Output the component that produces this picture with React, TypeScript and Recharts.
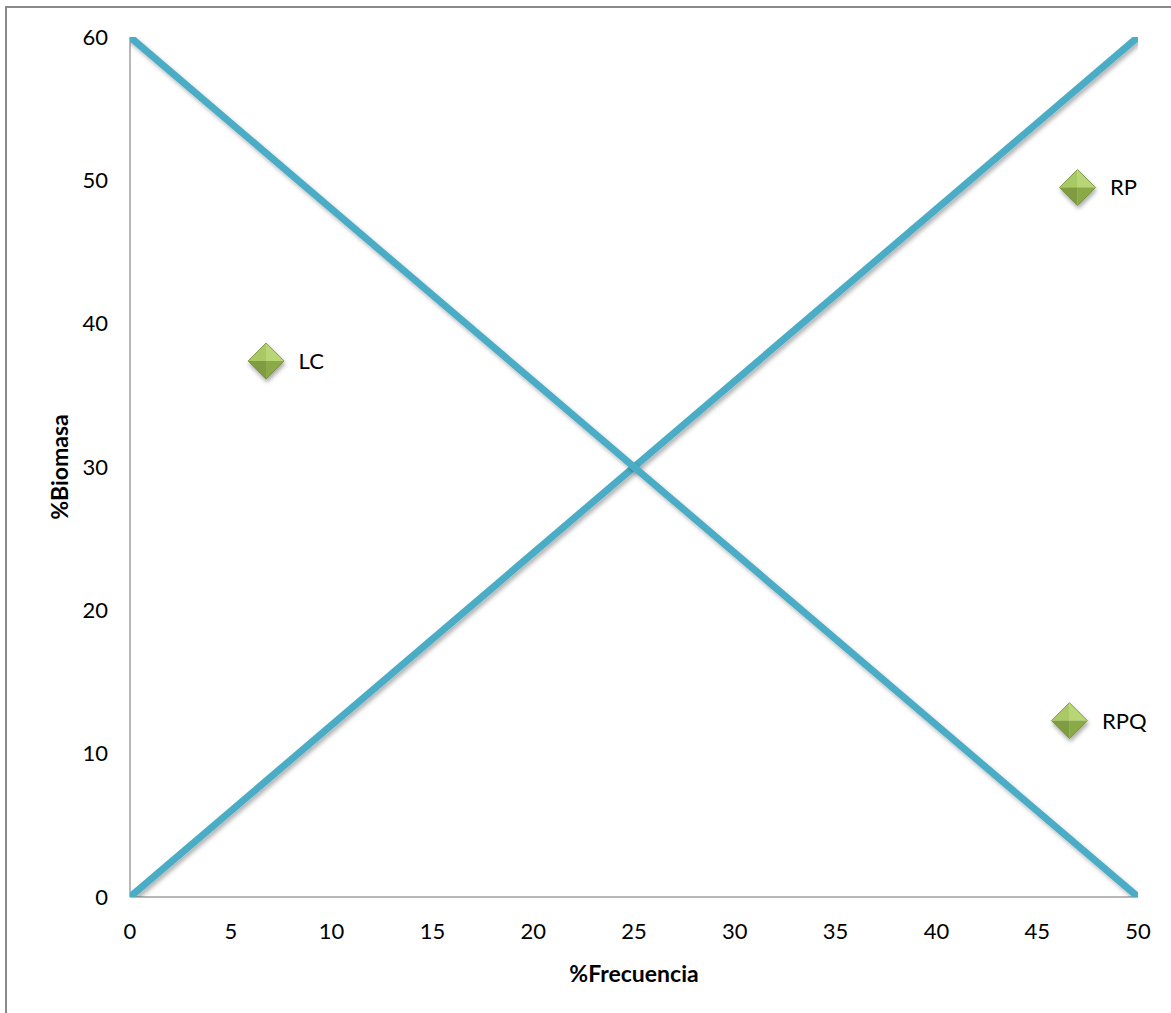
import React from 'react';
import { ComposedChart, Scatter, XAxis, YAxis, LabelList } from 'recharts';

const xTicks = [0, 5, 10, 15, 20, 25, 30, 35, 40, 45, 50];
const yTicks = [0, 10, 20, 30, 40, 50, 60];

const lineUp = [
  { x: 0, y: 0 },
  { x: 50, y: 60 },
];
const lineDown = [
  { x: 0, y: 60 },
  { x: 50, y: 0 },
];

const sites = [
  { x: 6.75, y: 37.4, name: 'LC' },
  { x: 47.0, y: 49.5, name: 'RP' },
  { x: 46.6, y: 12.3, name: 'RPQ' },
];

const FONT = 'Lato, "Open Sans", sans-serif';
const LINE_COLOR = '#4BACC6';

// bevelled green diamond like the Excel marker
const Diamond = (props: any) => {
  const { cx, cy } = props;
  if (cx == null || cy == null) return <g />;
  const r = 18;
  return (
    <g filter="url(#markShadow)">
      <polygon points={`${cx - r},${cy} ${cx},${cy - r} ${cx},${cy}`} fill="#a9c965" />
      <polygon points={`${cx},${cy - r} ${cx + r},${cy} ${cx},${cy}`} fill="#b8d675" />
      <polygon points={`${cx - r},${cy} ${cx},${cy} ${cx},${cy + r}`} fill="#7f9d3f" />
      <polygon points={`${cx},${cy} ${cx + r},${cy} ${cx},${cy + r}`} fill="#8aa946" />
      <polygon
        points={`${cx - r},${cy} ${cx},${cy - r} ${cx + r},${cy} ${cx},${cy + r}`}
        fill="none"
        stroke="#6e8a35"
        strokeWidth={0.8}
      />
    </g>
  );
};

const NoDot = () => <g />;

export default function App() {
  return (
    <div style={{ position: 'absolute', left: 0, top: 0, width: 1171, height: 1013, overflow: 'hidden', background: '#fff' }}>
      <div
        style={{
          position: 'absolute',
          left: 5,
          top: 6,
          width: 1200,
          height: 1100,
          borderLeft: '2px solid #8a8a8a',
          borderTop: '2px solid #8a8a8a',
        }}
      />
      <div style={{ position: 'absolute', left: 0, top: 0 }}>
        <ComposedChart width={1171} height={1013} margin={{ top: 37, right: 33, bottom: 16, left: 70 }}>
          <defs>
            <filter id="lineShadow" x="-10%" y="-10%" width="120%" height="120%">
              <feDropShadow dx="2" dy="3" stdDeviation="2" floodColor="#000" floodOpacity="0.3" />
            </filter>
            <filter id="markShadow" x="-50%" y="-50%" width="200%" height="200%">
              <feDropShadow dx="1" dy="3" stdDeviation="2" floodColor="#000" floodOpacity="0.35" />
            </filter>
          </defs>
          <XAxis
            type="number"
            dataKey="x"
            domain={[0, 50]}
            ticks={xTicks}
            interval={0}
            allowDataOverflow
            height={100}
            tickLine={false}
            tickSize={0}
            tickMargin={26}
            axisLine={{ stroke: '#a0a0a0', strokeWidth: 1.5 }}
            tick={{ fill: '#000', fontSize: 22, fontFamily: FONT }}
            label={{
              value: '%Frecuencia',
              position: 'insideBottom',
              offset: 15,
              style: { fill: '#000', fontSize: 23, fontWeight: 700, fontFamily: FONT },
            }}
          />
          <YAxis
            type="number"
            dataKey="y"
            domain={[0, 60]}
            ticks={yTicks}
            interval={0}
            allowDataOverflow
            width={60}
            tickLine={false}
            tickSize={0}
            tickMargin={22}
            axisLine={{ stroke: '#a0a0a0', strokeWidth: 1.5 }}
            tick={{ fill: '#000', fontSize: 22, fontFamily: FONT }}
            label={{
              value: '%Biomasa',
              angle: -90,
              position: 'insideLeft',
              offset: -10,
              style: { fill: '#000', fontSize: 23, fontWeight: 700, fontFamily: FONT, textAnchor: 'middle' },
            }}
          />
          <Scatter
            data={lineUp}
            line={{ stroke: LINE_COLOR, strokeWidth: 7, strokeLinecap: 'square', filter: 'url(#lineShadow)' }}
            shape={NoDot}
            isAnimationActive={false}
          />
          <Scatter
            data={lineDown}
            line={{ stroke: LINE_COLOR, strokeWidth: 7, strokeLinecap: 'square', filter: 'url(#lineShadow)' }}
            shape={NoDot}
            isAnimationActive={false}
          />
          <Scatter data={sites} shape={Diamond} isAnimationActive={false}>
            <LabelList
              dataKey="name"
              position="right"
              offset={28}
              style={{ fill: '#000', fontSize: 22, fontFamily: FONT }}
            />
          </Scatter>
        </ComposedChart>
      </div>
    </div>
  );
}
